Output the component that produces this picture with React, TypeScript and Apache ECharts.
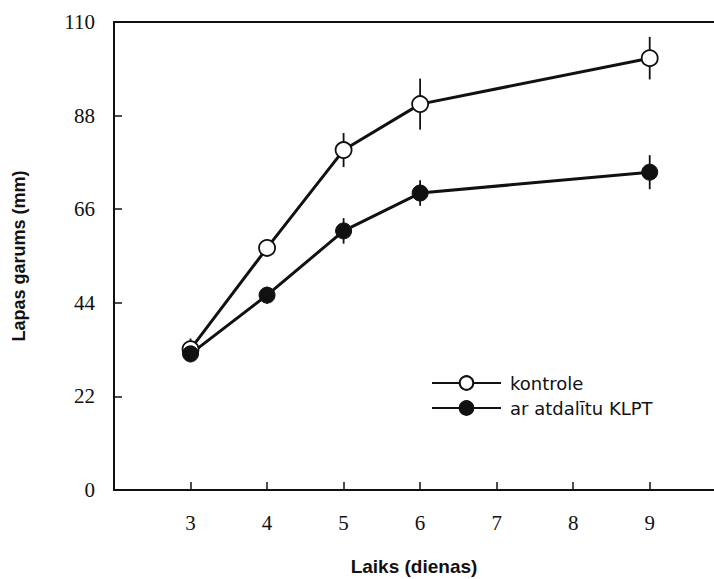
import React, { useEffect, useRef } from "react";
import * as echarts from "echarts";

// Leaf length over time for the control and the treated plants
const days = [3, 4, 5, 6, 9];
const kontroleValues = [33.1, 56.9, 79.9, 90.7, 101.5];
const kontroleErr = [2.5, 1, 4, 6, 5];
const klptValues = [32.0, 45.8, 60.9, 69.8, 74.7];
const klptErr = [2, 2, 3, 3, 4];
const yTicks = [0, 22, 44, 66, 88, 110];
const xTicks = [3, 4, 5, 6, 7, 8, 9];

const seriesNames = ["kontrole", "ar atdalītu KLPT"];

function errorSeries(values: number[], errs: number[]) {
  const data = days.map((d, i) => [d, values[i] - errs[i], values[i] + errs[i]]);
  return {
    type: "custom",
    silent: true,
    z: 1,
    data,
    renderItem: (_params: any, api: any) => {
      const x = api.value(0);
      const lo = api.coord([x, api.value(1)]);
      const hi = api.coord([x, api.value(2)]);
      return {
        type: "line",
        shape: { x1: lo[0], y1: lo[1], x2: hi[0], y2: hi[1] },
        style: { stroke: "#111", lineWidth: 1.8 },
      };
    },
  };
}

export default function App() {
  const ref = useRef<HTMLDivElement>(null);

  useEffect(() => {
    if (!ref.current) return;
    const chart = echarts.init(ref.current, undefined, { renderer: "svg" });
    const serif = "'Liberation Serif', 'DejaVu Serif', serif";
    const sans = "'Liberation Sans', Arial, sans-serif";
    chart.setOption({
      animation: false,
      backgroundColor: "#ffffff",
      grid: { left: 114, top: 22, right: 0, bottom: 89, outerBoundsMode: "none", containLabel: false },
      legend: {
        left: 426,
        top: 369,
        orient: "vertical",
        itemWidth: 69,
        itemHeight: 17,
        itemGap: 7,
        data: seriesNames,
        textStyle: { fontFamily: "'DejaVu Sans', sans-serif", fontSize: 18, color: "#111", padding: [0, 0, 0, 4] },
      },
      xAxis: [
        {
          type: "value",
          min: 2,
          max: 9.84,
          interval: 1,
          position: "bottom",
          name: "Laiks (dienas)",
          nameLocation: "middle",
          nameGap: 67,
          nameTextStyle: {
            fontFamily: sans,
            fontWeight: "bold",
            fontSize: 19,
            color: "#111",
          },
          splitLine: { show: false },
          axisLine: { lineStyle: { color: "#111", width: 2 } },
          axisTick: { inside: true, length: 8, lineStyle: { color: "#111", width: 1.5 } },
          axisLabel: {
            margin: 22,
            fontFamily: serif,
            fontSize: 21,
            color: "#111",
            showMinLabel: false,
            showMaxLabel: false,
            formatter: (v: number) => (xTicks.includes(v) ? String(v) : ""),
          },
        },
        {
          type: "value",
          min: 2,
          max: 9.84,
          interval: 1,
          position: "top",
          splitLine: { show: false },
          axisLine: { lineStyle: { color: "#111", width: 2 } },
          axisTick: { show: false },
          axisLabel: { show: false },
        },
      ],
      yAxis: {
        type: "value",
        min: yTicks[0],
        max: yTicks[yTicks.length - 1],
        interval: 22,
        name: "Lapas garums (mm)",
        nameLocation: "middle",
        nameGap: 86,
        nameTextStyle: {
          fontFamily: sans,
          fontWeight: "bold",
          fontSize: 18,
          color: "#111",
        },
        splitLine: { show: false },
        axisLine: { show: true, lineStyle: { color: "#111", width: 2 } },
        axisTick: { show: true, inside: true, length: 8, lineStyle: { color: "#111", width: 1.5 } },
        axisLabel: { margin: 19, fontFamily: serif, fontSize: 21, color: "#111" },
      },
      series: [
        errorSeries(kontroleValues, kontroleErr),
        errorSeries(klptValues, klptErr),
        {
          name: seriesNames[0],
          type: "line",
          z: 3,
          data: days.map((d, i) => [d, kontroleValues[i]]),
          symbol: "circle",
          symbolSize: 16,
          lineStyle: { color: "#111", width: 3 },
          itemStyle: { color: "#ffffff", borderColor: "#111", borderWidth: 1.8 },
        },
        {
          name: seriesNames[1],
          type: "line",
          z: 3,
          data: days.map((d, i) => [d, klptValues[i]]),
          symbol: "circle",
          symbolSize: 16,
          lineStyle: { color: "#111", width: 3 },
          itemStyle: { color: "#111", borderColor: "#111", borderWidth: 1 },
        },
      ],
    });
    return () => chart.dispose();
  }, []);

  return (
    <div
      ref={ref}
      style={{ position: "absolute", left: 0, top: 0, width: 714, height: 579 }}
    />
  );
}
